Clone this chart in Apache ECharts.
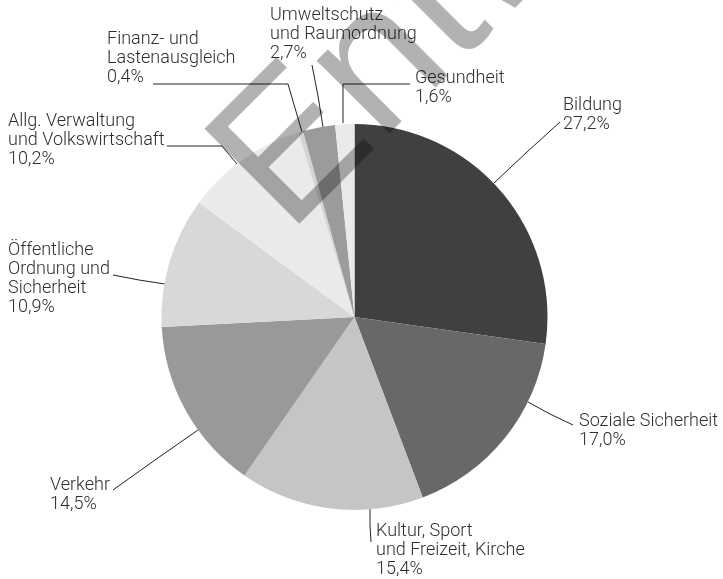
<!DOCTYPE html>
<html>
<head>
<meta charset="utf-8">
<script src="https://cdn.jsdelivr.net/npm/echarts@6/dist/echarts.min.js"></script>
<style>
  html, body { margin: 0; padding: 0; background: #fff; }
  #chart { width: 723px; height: 579px; }
</style>
</head>
<body>
<div id="chart"></div>
<script>
// Ausgabenanteile, im Uhrzeigersinn ab 12 Uhr
const names = [
  'Bildung',
  'Soziale Sicherheit',
  'Kultur, Sport\nund Freizeit, Kirche',
  'Verkehr',
  'Öffentliche\nOrdnung und\nSicherheit',
  'Allg. Verwaltung\nund Volkswirtschaft',
  'Finanz- und\nLastenausgleich',
  'Umweltschutz\nund Raumordnung',
  'Gesundheit'
]
const values = [27.2, 17.0, 15.4, 14.5, 10.9, 10.2, 0.4, 2.7, 1.6]
const colors = ['#404040', '#676867', '#c4c5c4', '#989998', '#d7d8d9', '#e9eaea', '#d3d4d6', '#9a9b9a', '#e9eaea']

// Beschriftungen: linke obere Ecke + Linienpunkte (Rand, Knick, Ende)
const labelLayout = [
  { x: 563, y: 96, line: [[494, 183], [527, 152], [560, 122]] },
  { x: 579, y: 412, line: [[528, 402], [550, 414], [573, 425]] },
  { x: 376, y: 522, line: [[370, 509], [370, 525], [371, 542]] },
  { x: 50, y: 476, line: [[198, 430], [155, 460], [113, 490]] },
  { x: 8, y: 241, line: [[165, 284], [139, 280], [113, 275]] },
  { x: 8, y: 112, line: [[237, 164], [222, 146], [167, 146]] },
  { x: 107, y: 30, line: [[302, 132], [288, 84], [153, 84]] },
  { x: 270, y: 6, line: [[323, 127], [318, 96], [312, 65]] },
  { x: 415, y: 69, line: [[343, 123], [343, 84], [410, 84]] }
]

const chart = echarts.init(document.getElementById('chart'))

const option = {
  animation: false,
  backgroundColor: '#fff',
  series: [
    {
      type: 'pie',
      center: [354.5, 317],
      radius: 193,
      startAngle: 90,
      clockwise: true,
      avoidLabelOverlap: false,
      itemStyle: { borderWidth: 0 },
      data: names.map((n, i) => ({ name: n, value: values[i], itemStyle: { color: colors[i] } })),
      label: {
        show: true,
        color: '#2e2e2e',
        fontFamily: 'Roboto',
        fontWeight: 300,
        fontSize: 18,
        lineHeight: 19,
        formatter: (p) => p.name + '\n' + p.value.toFixed(1).replace('.', ',') + '%',
      },
      labelLine: {
        show: true,
        lineStyle: { color: '#222', width: 1 },
      },
      labelLayout: (params) => {
        const l = labelLayout[params.dataIndex]
        return {
          x: l.x,
          y: l.y,
          align: 'left',
          verticalAlign: 'top',
          labelLinePoints: l.line,
        }
      },
      emphasis: { disabled: true },
    },
  ],
  // Wasserzeichen
  graphic: [
    {
      type: 'text',
      x: 250,
      y: 197,
      rotation: Math.PI / 4,
      z: 100,
      style: {
        text: 'Entwurf',
        fontFamily: 'Liberation Sans',
        fontSize: 195,
        fill: 'rgba(0,0,0,0.3)',
        align: 'left',
        verticalAlign: 'middle',
      },
    },
  ],
}

chart.setOption(option)
</script>
</body>
</html>
